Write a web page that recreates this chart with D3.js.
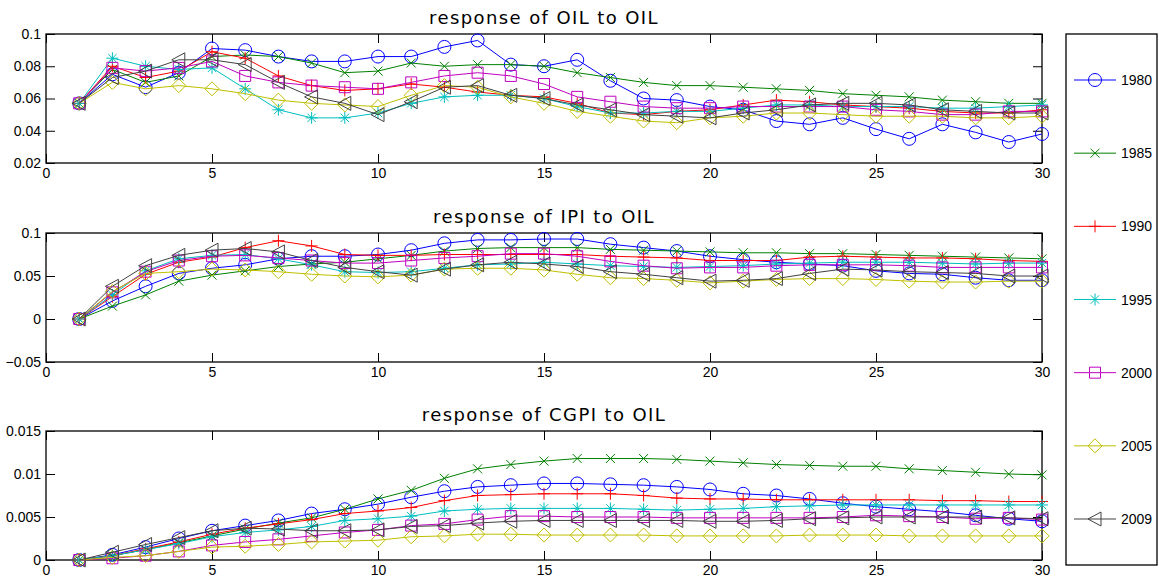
<!DOCTYPE html>
<html>
<head>
<meta charset="utf-8">
<script src="https://cdn.jsdelivr.net/npm/d3@7"></script>
<style>
  body { margin: 0; background: #fff; }
  .tick text { font-family: "Liberation Sans", Arial, sans-serif; font-size: 14px; fill: #000; }
  .title { font-family: "DejaVu Sans", sans-serif; font-size: 18px; letter-spacing: 1.4px; text-anchor: middle; }
  .legend-label { font-family: "Liberation Sans", Arial, sans-serif; font-size: 14px; }
</style>
</head>
<body>
<div id="chart"></div>
<script>
// horizon 1..30
var steps = d3.range(1, 31);
var years = ["1980", "1985", "1990", "1995", "2000", "2005", "2009"];
var colors = ["#0000ff", "#008000", "#ff0000", "#00bfbf", "#bf00bf", "#bfbf00", "#404040"];
var markers = ["o", "x", "+", "*", "s", "d", "<"];
var xTicks = [0, 5, 10, 15, 20, 25, 30];

// response of OIL to OIL
var oil1980 = [0.057,0.075,0.067,0.076,0.091,0.090,0.086,0.083,0.083,0.086,0.086,0.092,0.096,0.081,0.080,0.084,0.071,0.060,0.059,0.055,0.053,0.046,0.044,0.048,0.041,0.035,0.044,0.039,0.033,0.038];
var oil1985 = [0.057,0.078,0.070,0.074,0.086,0.087,0.086,0.082,0.076,0.077,0.082,0.080,0.081,0.081,0.080,0.076,0.073,0.070,0.068,0.068,0.067,0.066,0.065,0.063,0.062,0.061,0.059,0.058,0.057,0.057];
var oil1990 = [0.057,0.080,0.073,0.077,0.089,0.085,0.074,0.068,0.065,0.066,0.069,0.067,0.064,0.062,0.061,0.057,0.051,0.050,0.052,0.053,0.056,0.059,0.058,0.056,0.055,0.054,0.052,0.051,0.051,0.053];
var oil1995 = [0.057,0.085,0.080,0.078,0.079,0.066,0.053,0.048,0.048,0.051,0.057,0.061,0.062,0.062,0.060,0.055,0.051,0.051,0.052,0.052,0.054,0.056,0.056,0.055,0.055,0.055,0.054,0.054,0.055,0.056];
var oil2000 = [0.057,0.079,0.077,0.079,0.083,0.074,0.070,0.068,0.067,0.066,0.070,0.074,0.076,0.074,0.069,0.061,0.058,0.055,0.054,0.054,0.055,0.055,0.055,0.055,0.053,0.052,0.050,0.050,0.052,0.052];
var oil2005 = [0.057,0.070,0.066,0.068,0.066,0.063,0.059,0.057,0.056,0.055,0.062,0.068,0.067,0.061,0.057,0.052,0.049,0.046,0.045,0.048,0.049,0.051,0.051,0.050,0.049,0.049,0.049,0.048,0.048,0.049];
var oil2009 = [0.057,0.073,0.077,0.084,0.084,0.081,0.070,0.061,0.057,0.050,0.058,0.067,0.068,0.062,0.060,0.056,0.053,0.050,0.049,0.048,0.051,0.053,0.056,0.057,0.057,0.056,0.053,0.052,0.051,0.051];

// response of IPI to OIL
var ipi1980 = [0,0.021,0.038,0.053,0.059,0.063,0.070,0.073,0.073,0.075,0.080,0.088,0.092,0.092,0.093,0.093,0.087,0.083,0.079,0.073,0.069,0.066,0.064,0.062,0.056,0.053,0.052,0.048,0.045,0.045];
var ipi1985 = [0,0.015,0.028,0.044,0.051,0.056,0.061,0.064,0.066,0.070,0.074,0.079,0.082,0.083,0.083,0.083,0.081,0.080,0.079,0.078,0.077,0.077,0.076,0.076,0.075,0.074,0.073,0.072,0.071,0.070];
var ipi1990 = [0,0.026,0.052,0.066,0.072,0.083,0.091,0.085,0.075,0.074,0.074,0.075,0.075,0.075,0.075,0.075,0.073,0.072,0.071,0.068,0.068,0.068,0.072,0.073,0.072,0.071,0.071,0.070,0.068,0.067];
var ipi1995 = [0,0.028,0.056,0.070,0.074,0.075,0.070,0.063,0.055,0.054,0.055,0.059,0.063,0.064,0.066,0.064,0.062,0.061,0.060,0.061,0.062,0.064,0.065,0.066,0.066,0.066,0.065,0.064,0.065,0.065];
var ipi2000 = [0,0.031,0.055,0.068,0.073,0.074,0.071,0.068,0.065,0.065,0.068,0.071,0.073,0.076,0.076,0.073,0.067,0.062,0.059,0.060,0.060,0.062,0.063,0.063,0.063,0.062,0.060,0.060,0.060,0.060];
var ipi2005 = [0,0.032,0.053,0.055,0.058,0.057,0.055,0.052,0.050,0.049,0.051,0.058,0.059,0.059,0.057,0.052,0.048,0.047,0.045,0.042,0.044,0.046,0.047,0.047,0.046,0.044,0.043,0.043,0.044,0.044];
var ipi2009 = [0,0.038,0.062,0.074,0.080,0.082,0.078,0.068,0.060,0.055,0.051,0.058,0.063,0.066,0.064,0.061,0.055,0.052,0.048,0.044,0.045,0.047,0.053,0.058,0.057,0.055,0.054,0.053,0.050,0.050];

// response of CGPI to OIL
var cgpi1980 = [0,0.0006,0.0015,0.0025,0.0034,0.0040,0.0046,0.0054,0.0059,0.0065,0.0073,0.0080,0.0085,0.0087,0.0089,0.0089,0.0088,0.0087,0.0085,0.0082,0.0077,0.0075,0.0071,0.0066,0.0062,0.0059,0.0056,0.0052,0.0048,0.0045];
var cgpi1985 = [0,0.0005,0.0012,0.0020,0.0028,0.0036,0.0043,0.0049,0.0059,0.0071,0.0081,0.0095,0.0106,0.0111,0.0115,0.0118,0.0118,0.0118,0.0117,0.0115,0.0113,0.0111,0.0110,0.0109,0.0109,0.0106,0.0104,0.0102,0.0100,0.0099];
var cgpi1990 = [0,0.0005,0.0013,0.0021,0.0030,0.0037,0.0042,0.0047,0.0054,0.0057,0.0061,0.0069,0.0075,0.0076,0.0077,0.0077,0.0077,0.0075,0.0072,0.0071,0.0071,0.0070,0.0070,0.0070,0.0070,0.0070,0.0069,0.0069,0.0068,0.0068];
var cgpi1995 = [0,0.0005,0.0012,0.0019,0.0027,0.0032,0.0035,0.0039,0.0046,0.0048,0.0051,0.0057,0.0059,0.0060,0.0060,0.0060,0.0060,0.0059,0.0058,0.0059,0.0060,0.0062,0.0063,0.0064,0.0064,0.0064,0.0064,0.0064,0.0064,0.0064];
var cgpi2000 = [0,0.0002,0.0005,0.0010,0.0017,0.0021,0.0024,0.0028,0.0032,0.0035,0.0040,0.0042,0.0047,0.0051,0.0051,0.0050,0.0050,0.0050,0.0049,0.0049,0.0049,0.0049,0.0049,0.0050,0.0052,0.0051,0.0050,0.0048,0.0049,0.0047];
var cgpi2005 = [0,0.0003,0.0005,0.0010,0.0015,0.0016,0.0018,0.0021,0.0022,0.0023,0.0027,0.0028,0.0030,0.0030,0.0029,0.0029,0.0029,0.0029,0.0028,0.0028,0.0028,0.0028,0.0029,0.0029,0.0029,0.0028,0.0028,0.0028,0.0028,0.0028];
var cgpi2009 = [0,0.0009,0.0018,0.0026,0.0034,0.0037,0.0036,0.0034,0.0034,0.0035,0.0039,0.0040,0.0043,0.0045,0.0046,0.0046,0.0046,0.0046,0.0046,0.0045,0.0045,0.0046,0.0048,0.0049,0.0050,0.0050,0.0050,0.0050,0.0049,0.0048];

var panels = [
  { title: "response of OIL to OIL", top: 34, bottom: 163, domain: [0.02, 0.1],
    ticks: [0.02, 0.04, 0.06, 0.08, 0.1],
    series: [oil1980, oil1985, oil1990, oil1995, oil2000, oil2005, oil2009] },
  { title: "response of IPI to OIL", top: 233, bottom: 362, domain: [-0.05, 0.1],
    ticks: [-0.05, 0, 0.05, 0.1],
    series: [ipi1980, ipi1985, ipi1990, ipi1995, ipi2000, ipi2005, ipi2009] },
  { title: "response of CGPI to OIL", top: 431, bottom: 560, domain: [0, 0.015],
    ticks: [0, 0.005, 0.01, 0.015],
    series: [cgpi1980, cgpi1985, cgpi1990, cgpi1995, cgpi2000, cgpi2005, cgpi2009] }
];

var width = 1159, height = 584;
var left = 46, right = 1042, tickLen = 9;

let markerPath = (type)=> {
  var r = 6.5;
  if (type === "o") return d3.symbol(d3.symbolCircle, Math.PI * r * r)();
  if (type === "x") return "M-4.5,-4.5L4.5,4.5M-4.5,4.5L4.5,-4.5";
  if (type === "+") return "M-6,0L6,0M0,-6L0,6";
  if (type === "*") return "M-6,0L6,0M0,-6L0,6M-4.2,-4.2L4.2,4.2M-4.2,4.2L4.2,-4.2";
  if (type === "s") return "M-5.5,-5.5L5.5,-5.5L5.5,5.5L-5.5,5.5Z";
  if (type === "d") return "M0,-7L7,0L0,7L-7,0Z";
  if (type === "<") return "M-7,0L6,-7L6,7Z";
};

var svg = d3.select("#chart").append("svg")
  .attr("width", width).attr("height", height);

var xScale = d3.scaleLinear().domain([0, 30]).range([left, right]);

var fmt = (d)=> String(+d.toFixed(4)).replace("-", "\u2212");

panels.forEach((p)=> {
  let yScale = d3.scaleLinear().domain(p.domain).range([p.bottom, p.top]);
  let g = svg.append("g");

  // axes: outward labels, ticks pointing inside the box
  let xAxis = d3.axisBottom(xScale).tickValues(xTicks).tickSizeInner(-tickLen).tickSizeOuter(0).tickPadding(5).tickFormat(d3.format("d"));
  let xTop = d3.axisTop(xScale).tickValues(xTicks).tickSizeInner(-tickLen).tickSizeOuter(0).tickFormat("");
  let yAxis = d3.axisLeft(yScale).tickValues(p.ticks).tickSizeInner(-tickLen).tickSizeOuter(0).tickPadding(5).tickFormat(fmt);
  let yRight = d3.axisRight(yScale).tickValues(p.ticks).tickSizeInner(-tickLen).tickSizeOuter(0).tickFormat("");

  g.append("g").attr("transform", "translate(0," + p.bottom + ")").call(xAxis);
  g.append("g").attr("transform", "translate(0," + p.top + ")").call(xTop);
  g.append("g").attr("transform", "translate(" + left + ",0)").call(yAxis);
  g.append("g").attr("transform", "translate(" + right + ",0)").call(yRight);
  g.selectAll(".domain").remove();
  g.selectAll(".tick line").attr("stroke", "#000");

  g.append("rect")
    .attr("x", left).attr("y", p.top)
    .attr("width", right - left).attr("height", p.bottom - p.top)
    .attr("fill", "none").attr("stroke", "#000").attr("stroke-width", 1.3);

  g.append("text").attr("class", "title")
    .attr("x", (left + right) / 2).attr("y", p.top - 10)
    .text(p.title);

  let line = d3.line().x((d, i)=> xScale(steps[i])).y((d)=> yScale(d));

  p.series.forEach((vals, k)=> {
    let s = g.append("g").attr("class", "series");
    s.append("path").datum(vals)
      .attr("d", line)
      .attr("fill", "none").attr("stroke", colors[k]).attr("stroke-width", 1);
    s.selectAll(".m").data(vals).enter().append("path")
      .attr("class", "m")
      .attr("transform", (d, i)=> "translate(" + xScale(steps[i]) + "," + yScale(d) + ")")
      .attr("d", markerPath(markers[k]))
      .attr("fill", "none").attr("stroke", colors[k]).attr("stroke-width", 1);
  });
});

// legend
var legend = svg.append("g");
legend.append("rect")
  .attr("x", 1066).attr("y", 34).attr("width", 91).attr("height", 531)
  .attr("fill", "#fff").attr("stroke", "#000").attr("stroke-width", 1.3);

var legendY = d3.scalePoint().domain(years).range([80, 519]);

years.forEach((yr, k)=> {
  let y = legendY(yr);
  legend.append("line").attr("x1", 1074).attr("x2", 1116).attr("y1", y).attr("y2", y)
    .attr("stroke", colors[k]).attr("stroke-width", 1);
  legend.append("path").attr("transform", "translate(1095," + y + ")")
    .attr("d", markerPath(markers[k]))
    .attr("fill", "none").attr("stroke", colors[k]).attr("stroke-width", 1);
  legend.append("text").attr("class", "legend-label")
    .attr("x", 1121).attr("y", y + 5).text(yr);
});
</script>
</body>
</html>
